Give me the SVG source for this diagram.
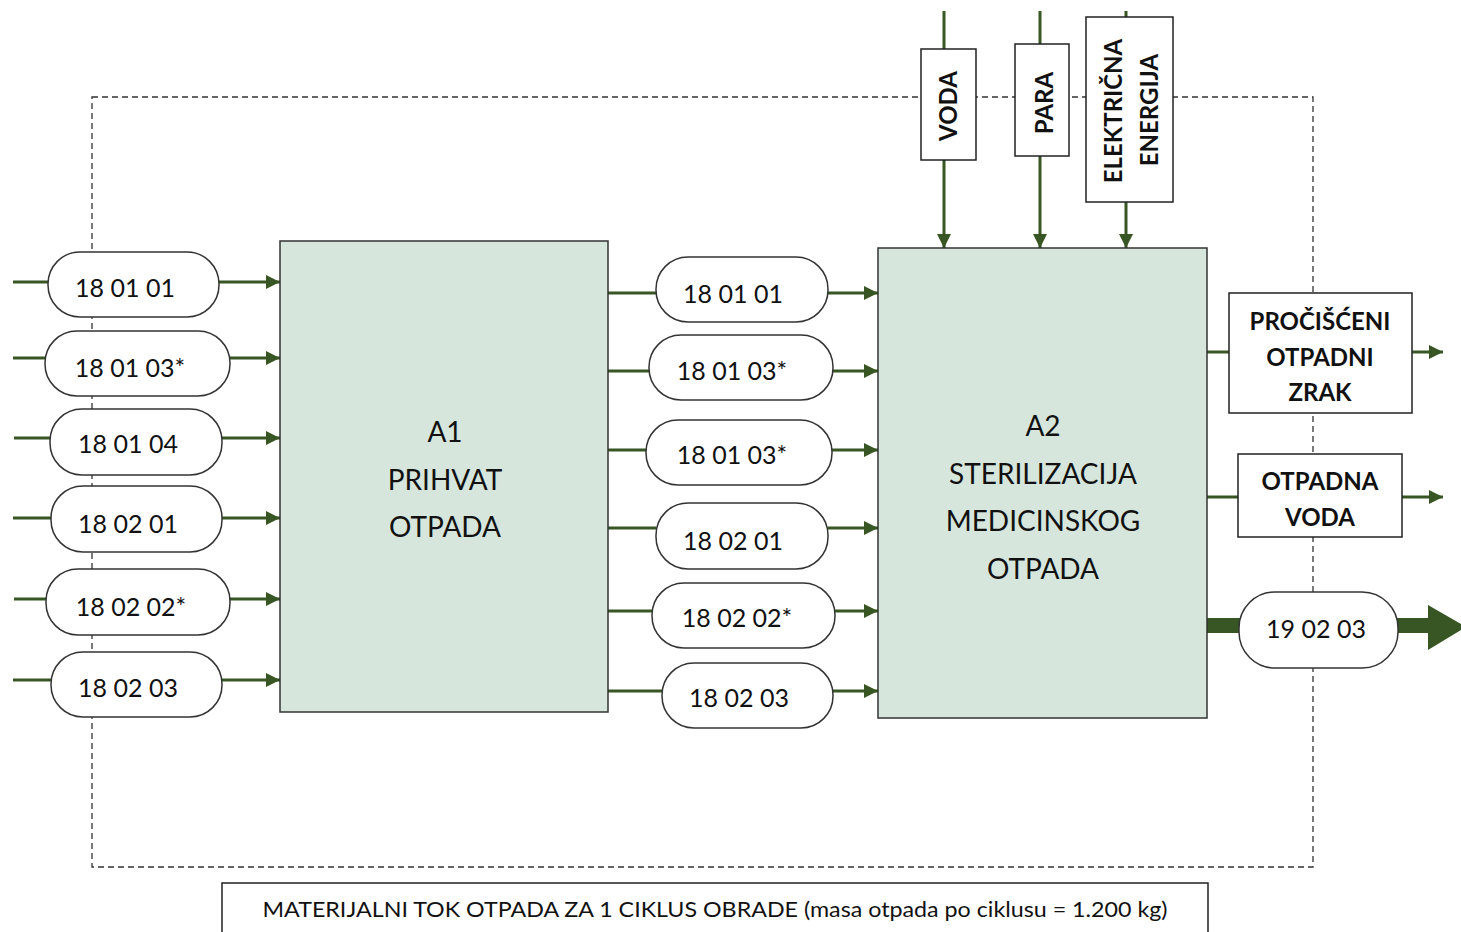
<svg xmlns="http://www.w3.org/2000/svg" width="1461" height="932" viewBox="0 0 1461 932">
<style>
text{font-family:Lato,"Open Sans","Liberation Sans",sans-serif;fill:#111}
.pill{fill:#fff;stroke:#333;stroke-width:1.5}
.proc{fill:#d6e6dc;stroke:#333;stroke-width:1.5}
.box{fill:#fff;stroke:#222;stroke-width:1.5}
.pt{font-size:25px;text-anchor:middle}
.big{font-size:28px;text-anchor:middle}
.bt{font-size:24px;font-weight:bold;text-anchor:middle}
.ln{stroke:#375623;stroke-width:3;fill:none}
.ar{stroke:#375623;stroke-width:3;fill:none;marker-end:url(#ah)}
.dash{fill:none;stroke:#333;stroke-width:1.3;stroke-dasharray:6 4}
</style>
<defs>
<marker id="ah" markerUnits="userSpaceOnUse" markerWidth="14" markerHeight="14" viewBox="0 0 14 14" refX="14" refY="7" orient="auto">
<path d="M0,0 L14,7 L0,14 Z" fill="#375623"/>
</marker>
</defs>
<rect class="dash" x="92" y="97" width="1221" height="770"/>
<g id="connectors">
<line class="ln" x1="13" y1="282" x2="48" y2="282"/><line class="ar" x1="219" y1="282" x2="280" y2="282"/>
<line class="ln" x1="13" y1="358" x2="45" y2="358"/><line class="ar" x1="230" y1="358" x2="280" y2="358"/>
<line class="ln" x1="14" y1="438" x2="50" y2="438"/><line class="ar" x1="222" y1="438" x2="280" y2="438"/>
<line class="ln" x1="13" y1="518" x2="51" y2="518"/><line class="ar" x1="222" y1="518" x2="280" y2="518"/>
<line class="ln" x1="14" y1="599" x2="46" y2="599"/><line class="ar" x1="230" y1="599" x2="280" y2="599"/>
<line class="ln" x1="13" y1="680" x2="51" y2="680"/><line class="ar" x1="222" y1="680" x2="280" y2="680"/>
<line class="ln" x1="608" y1="293" x2="656" y2="293"/><line class="ar" x1="828" y1="293" x2="878" y2="293"/>
<line class="ln" x1="608" y1="371" x2="649" y2="371"/><line class="ar" x1="833" y1="371" x2="878" y2="371"/>
<line class="ln" x1="608" y1="450" x2="646" y2="450"/><line class="ar" x1="832" y1="450" x2="878" y2="450"/>
<line class="ln" x1="608" y1="528" x2="656" y2="528"/><line class="ar" x1="828" y1="528" x2="878" y2="528"/>
<line class="ln" x1="608" y1="611" x2="652" y2="611"/><line class="ar" x1="835" y1="611" x2="878" y2="611"/>
<line class="ln" x1="608" y1="691" x2="662" y2="691"/><line class="ar" x1="833" y1="691" x2="878" y2="691"/>
<line class="ln" x1="944" y1="11" x2="944" y2="49"/><line class="ar" x1="944" y1="160" x2="944" y2="248"/>
<line class="ln" x1="1040" y1="11" x2="1040" y2="44"/><line class="ar" x1="1040" y1="156" x2="1040" y2="248"/>
<line class="ln" x1="1126" y1="11" x2="1126" y2="17"/><line class="ar" x1="1126" y1="202" x2="1126" y2="248"/>
<line class="ln" x1="1207" y1="352" x2="1229" y2="352"/><line class="ar" x1="1412" y1="352" x2="1443" y2="352"/>
<line class="ln" x1="1207" y1="497" x2="1238" y2="497"/><line class="ar" x1="1402" y1="497" x2="1443" y2="497"/>
<rect x="1207" y="618" width="33" height="15" fill="#375623"/>
<rect x="1397" y="618" width="32" height="15" fill="#375623"/>
<path d="M1428,605 L1466,627 L1428,650 Z" fill="#375623"/>
</g>
<g id="a1"><rect class="proc" x="280" y="241" width="328" height="471"/>
<text class="big" x="445" y="442">A1</text><text class="big" x="445" y="490">PRIHVAT</text><text class="big" x="445" y="537">OTPADA</text></g>
<g id="a2"><rect class="proc" x="878" y="248" width="329" height="470"/>
<text class="big" x="1043" y="436">A2</text><text class="big" x="1043" y="484">STERILIZACIJA</text><text class="big" x="1043" y="531">MEDICINSKOG</text><text class="big" x="1043" y="579">OTPADA</text></g>
<g id="in1"><rect class="pill" x="48" y="252" width="171" height="65" rx="32"/><text class="pt" x="125" y="297">18 01 01</text></g>
<g id="in2"><rect class="pill" x="45" y="331" width="185" height="65" rx="32"/><text class="pt" x="130" y="377">18 01 03*</text></g>
<g id="in3"><rect class="pill" x="50" y="409" width="172" height="66" rx="32"/><text class="pt" x="128" y="453">18 01 04</text></g>
<g id="in4"><rect class="pill" x="51" y="486" width="171" height="66" rx="32"/><text class="pt" x="128" y="533">18 02 01</text></g>
<g id="in5"><rect class="pill" x="46" y="569" width="184" height="66" rx="32"/><text class="pt" x="131" y="616">18 02 02*</text></g>
<g id="in6"><rect class="pill" x="51" y="652" width="171" height="65" rx="32"/><text class="pt" x="128" y="697">18 02 03</text></g>
<g id="m1"><rect class="pill" x="656" y="257" width="172" height="65" rx="32"/><text class="pt" x="733" y="303">18 01 01</text></g>
<g id="m2"><rect class="pill" x="649" y="335" width="184" height="65" rx="32"/><text class="pt" x="732" y="380">18 01 03*</text></g>
<g id="m3"><rect class="pill" x="646" y="420" width="186" height="65" rx="32"/><text class="pt" x="732" y="464">18 01 03*</text></g>
<g id="m4"><rect class="pill" x="656" y="503" width="172" height="66" rx="32"/><text class="pt" x="733" y="550">18 02 01</text></g>
<g id="m5"><rect class="pill" x="652" y="583" width="183" height="65" rx="32"/><text class="pt" x="737" y="627">18 02 02*</text></g>
<g id="m6"><rect class="pill" x="662" y="663" width="171" height="65" rx="32"/><text class="pt" x="739" y="707">18 02 03</text></g>
<g id="voda"><rect class="box" x="921" y="49" width="55" height="111"/><text class="bt" transform="translate(957,106) rotate(-90)">VODA</text></g>
<g id="para"><rect class="box" x="1015" y="44" width="54" height="112"/><text class="bt" transform="translate(1053,103) rotate(-90)">PARA</text></g>
<g id="energija"><rect class="box" x="1086" y="17" width="87" height="185"/><text class="bt" transform="translate(1122,111) rotate(-90)">ELEKTRIČNA</text><text class="bt" transform="translate(1158,110) rotate(-90)">ENERGIJA</text></g>
<g id="zrak"><rect class="box" x="1229" y="293" width="183" height="120"/><text class="bt" x="1320" y="330">PROČIŠĆENI</text><text class="bt" x="1320" y="366">OTPADNI</text><text class="bt" x="1320" y="401">ZRAK</text></g>
<g id="otpvoda"><rect class="box" x="1238" y="454" width="164" height="83"/><text class="bt" x="1320" y="490">OTPADNA</text><text class="bt" x="1320" y="526">VODA</text></g>
<g id="out"><rect class="pill" x="1239" y="592" width="159" height="76" rx="36"/><text class="pt" x="1316" y="638">19 02 03</text></g>
<g id="caption"><rect x="222" y="883" width="986" height="60" fill="#fff" stroke="#222" stroke-width="1.5"/><text x="715" y="917" style="font-size:22px;text-anchor:middle" textLength="905" lengthAdjust="spacingAndGlyphs">MATERIJALNI TOK OTPADA ZA 1 CIKLUS OBRADE (masa otpada po ciklusu = 1.200 kg)</text></g>
</svg>
